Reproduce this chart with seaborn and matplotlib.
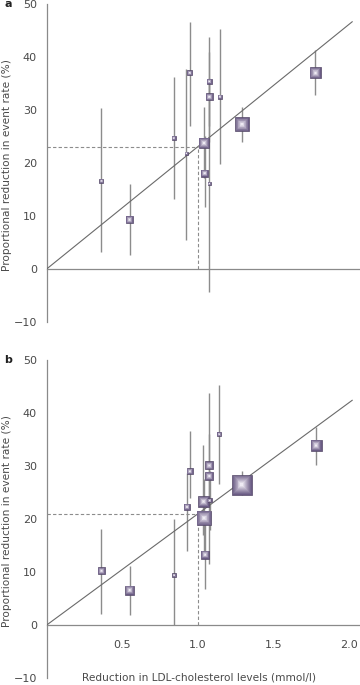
import matplotlib
matplotlib.use('Agg')
import matplotlib.pyplot as plt
import numpy as np
import pandas as pd
import seaborn as sns
from matplotlib.colors import to_rgb

# Panel a: trial estimates (LDL reduction, proportional event reduction, 95% CI)
ldl_a = [0.362, 0.548, 0.840, 0.923, 0.945, 1.040, 1.044, 1.075, 1.075, 1.075, 1.145, 1.290, 1.776]
red_a = [16.6, 9.3, 24.7, 21.8, 37.0, 23.8, 18.1, 35.4, 32.5, 16.1, 32.5, 27.3, 37.0]
lo_a = [3.2, 2.6, 13.2, 5.4, 27.0, 17.2, 11.6, 27.0, 24.0, -4.3, 19.8, 24.0, 32.8]
hi_a = [30.3, 16.1, 36.3, 37.8, 46.6, 30.5, 25.0, 43.7, 41.0, 36.0, 45.3, 30.6, 41.3]
box_a = [4, 7, 4, 3, 5, 10.5, 7, 5, 7, 3, 4, 14, 11]
slope_a = 23.1

# Panel b
ldl_b = [0.362, 0.548, 0.842, 0.927, 0.946, 1.035, 1.040, 1.047, 1.074, 1.074, 1.077, 1.140, 1.290, 1.780]
red_b = [10.2, 6.6, 9.4, 22.3, 29.0, 23.3, 20.2, 13.3, 30.1, 28.1, 23.5, 36.0, 26.5, 33.9]
lo_b = [2.1, 1.8, 0.0, 14.0, 24.0, 17.0, 14.0, 6.8, 24.0, 11.5, 18.0, 26.7, 24.5, 30.1]
hi_b = [18.2, 11.2, 20.0, 28.6, 36.7, 34.0, 27.5, 20.0, 43.7, 36.0, 29.0, 45.3, 29.0, 37.3]
box_b = [7, 9, 3.5, 6, 6, 10.5, 14.5, 8, 8, 8, 4, 4, 20, 11]
slope_b = 21.0

xticks = [0.5, 1.0, 1.5, 2.0]
xtick_labels = ['0.5', '1.0', '1.5', '2.0']
yticks = [-10, 0, 10, 20, 30, 40, 50]

sns.set_style('white')
plt.rcParams['font.family'] = ['DejaVu Sans']

AXIS_GREY = '#8a8a8a'
TEXT_GREY = '#4a4a4a'
RIM = np.array(to_rgb('#6a5b84'))
CORE = np.array(to_rgb('#efebf4'))


def draw_panel(ax, ldl, red, lo, hi, box, slope, letter, show_xlabels):
    df = pd.DataFrame({'ldl': ldl, 'red': red, 'lo': lo, 'hi': hi})
    # marker side in px -> area in pt^2 (dpi 100)
    df['area'] = (np.array(box) * 0.72) ** 2

    # confidence intervals
    ax.vlines(df['ldl'], df['lo'], df['hi'], color='#8c8c8c', lw=1.0, zorder=2)

    # fitted line through origin and the dashed read-off at 1 mmol/l
    fit = pd.DataFrame({'x': [0, 2.02]})
    fit['y'] = fit['x'] * slope
    sns.lineplot(data=fit, x='x', y='y', ax=ax, color='#6a6a6a', lw=0.8, zorder=3)
    ax.plot([0, 1.0], [slope, slope], ls=(0, (3, 2)), color='#8c8c8c', lw=0.8, zorder=1)
    ax.plot([1.0, 1.0], [0, slope], ls=(0, (3, 2)), color='#8c8c8c', lw=0.8, zorder=1)

    # squares shaded from a purple rim to a pale centre
    amin, amax = df['area'].min(), df['area'].max()
    n = 10
    for k in range(n):
        t = k / (n - 1)
        side = 1.0 - 0.85 * t
        f = side ** 2
        mix = t ** 1.1
        fc = tuple(RIM * (1 - mix) + CORE * mix)
        ec = '#564a68' if k == 0 else 'none'
        d = df.assign(area=df['area'] * f)
        sns.scatterplot(data=d, x='ldl', y='red', size='area',
                        sizes=(amin * f, amax * f), size_norm=(amin * f, amax * f),
                        marker='s', color=fc, edgecolor=ec, linewidth=0.5 if k == 0 else 0,
                        legend=False, ax=ax, zorder=4 + k)

    ax.set_xlim(0, 2.07)
    ax.set_ylim(-10, 50)
    ax.spines['bottom'].set_position(('data', 0))
    ax.spines['top'].set_visible(False)
    ax.spines['right'].set_visible(False)
    for s in ['left', 'bottom']:
        ax.spines[s].set_color(AXIS_GREY)
        ax.spines[s].set_linewidth(0.9)
    ax.set_xticks(xticks)
    ax.set_yticks(yticks)
    ax.set_yticklabels(['\u221210', '0', '10', '20', '30', '40', '50'])
    ax.tick_params(axis='x', direction='out', length=6, width=0.9, color=AXIS_GREY,
                   labelsize=8, labelcolor=TEXT_GREY, pad=5)
    ax.tick_params(axis='y', direction='out', length=4, width=0.9, color=AXIS_GREY,
                   labelsize=8, labelcolor=TEXT_GREY, pad=3)
    if show_xlabels:
        ax.set_xticklabels(xtick_labels)
        ax.set_xlabel('Reduction in LDL-cholesterol levels (mmol/l)', fontsize=7.6,
                      color=TEXT_GREY)
        ax.xaxis.set_label_coords(0.486, 0.018)
    else:
        ax.set_xticklabels([])
        ax.set_xlabel('')
    ax.set_ylabel('Proportional reduction in event rate (%)', fontsize=7.6, color=TEXT_GREY)
    ax.yaxis.set_label_coords(-0.112, 0.493)
    ax.text(-0.135, 1.0, letter, transform=ax.transAxes, fontsize=8, fontweight='bold',
            color='#222222', ha='left', va='center')


fig = plt.figure(figsize=(3.6, 6.85), dpi=100)
ax_a = fig.add_axes([0.1297, 0.530, 0.870, 0.4642])
ax_b = fig.add_axes([0.1297, 0.0102, 0.870, 0.4642])
for a in (ax_a, ax_b):
    a.patch.set_alpha(0)

draw_panel(ax_a, ldl_a, red_a, lo_a, hi_a, box_a, slope_a, 'a', False)
draw_panel(ax_b, ldl_b, red_b, lo_b, hi_b, box_b, slope_b, 'b', True)

fig.savefig('out.png', dpi=100)
plt.close(fig)
